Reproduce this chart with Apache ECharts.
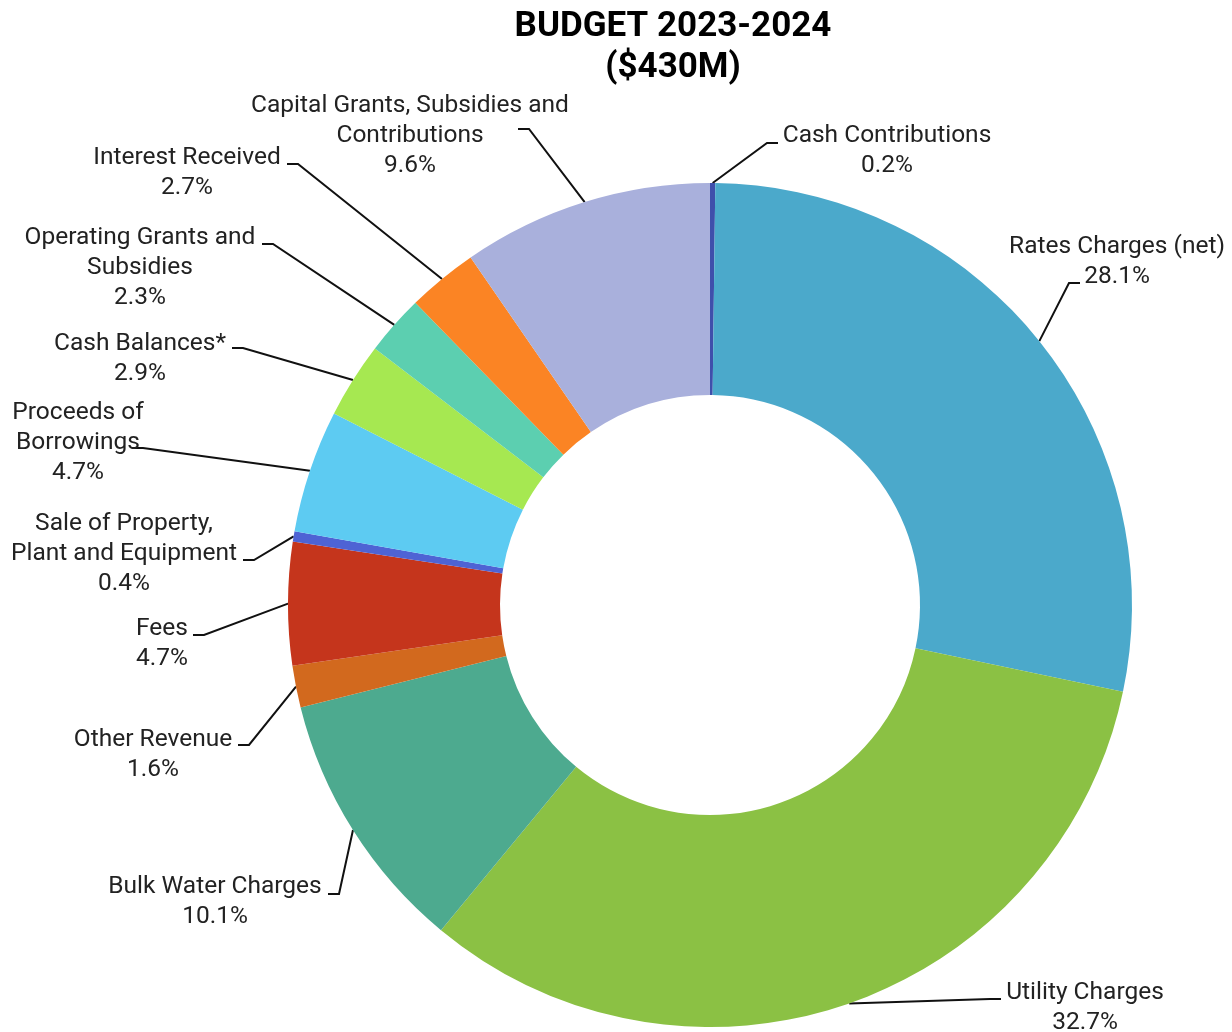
<!DOCTYPE html>
<html>
<head>
<meta charset="utf-8">
<script src="https://cdn.jsdelivr.net/npm/echarts@6/dist/echarts.min.js"></script>
<style>
html,body{margin:0;padding:0;background:#fff;}
#chart{width:1232px;height:1032px;}
</style>
</head>
<body>
<div id="chart"></div>
<script>
// ---- data ----
var categories = [
  'Cash Contributions',
  'Rates Charges (net)',
  'Utility Charges',
  'Bulk Water Charges',
  'Other Revenue',
  'Fees',
  'Sale of Property,\nPlant and Equipment',
  'Proceeds of\nBorrowings',
  'Cash Balances*',
  'Operating Grants and\nSubsidies',
  'Interest Received',
  'Capital Grants, Subsidies and\nContributions'
];
var shares = [0.2, 28.1, 32.7, 10.1, 1.6, 4.7, 0.4, 4.7, 2.9, 2.3, 2.7, 9.6];
var titleText = 'BUDGET 2023-2024\n($430M)';

// ---- styles / label placement (annotation layout, not data) ----
var sliceColors = ['#3F4FAB', '#4BA9CB', '#8BC144', '#4DAA8F', '#D2691E', '#C5351C',
                   '#4E63D4', '#5DCBF2', '#A6E851', '#5CCFB0', '#FB8424', '#A9B0DC'];
var labelCenter = [
  [887, 151], [1117, 262], [1085, 1008], [215, 902], [153, 755], [162, 644],
  [124, 554], [78, 443], [140, 359], [140, 268], [187, 173], [410, 136]
];
var labelAttach = [
  [778, 143], [1080, 283], [1001, 999], [328, 894], [238, 745], [193, 635],
  [243, 560], [132, 448], [232, 348], [262, 244], [287, 164], [518, 129]
];
var CX = 710, CY = 605, R0 = 210, R1 = 422;

var chart = echarts.init(document.getElementById('chart'), null, {renderer: 'canvas'});

var dataItems = categories.map(function (c, i) {
  return { name: c, value: shares[i], itemStyle: { color: sliceColors[i] } };
});

var total = shares.reduce(function (a, b) { return a + b; }, 0);
function sliceEdge(i) {
  var before = 0;
  for (var k = 0; k < i; k++) before += shares[k];
  var mid = (before + shares[i] / 2) / total * Math.PI * 2;
  return [CX + R1 * Math.sin(mid), CY - R1 * Math.cos(mid)];
}

chart.setOption({
  backgroundColor: '#ffffff',
  animation: false,
  title: {
    text: titleText,
    left: 668,
    top: 2,
    textAlign: 'center',
    textStyle: {
      fontFamily: 'Roboto',
      fontSize: 35,
      fontWeight: 'bold',
      lineHeight: 41,
      color: '#000000'
    }
  },
  series: [{
    type: 'pie',
    center: [CX, CY],
    radius: [R0, R1],
    startAngle: 90,
    clockwise: true,
    avoidLabelOverlap: false,
    itemStyle: { borderWidth: 0 },
    label: {
      show: true,
      position: 'outside',
      fontFamily: 'Roboto',
      fontSize: 24.5,
      lineHeight: 30,
      color: '#222222',
      align: 'center',
      formatter: function (p) { return p.name + '\n' + p.value.toFixed(1) + '%'; }
    },
    labelLine: {
      show: true,
      length: 10,
      length2: 10,
      lineStyle: { color: '#111111', width: 2 }
    },
    labelLayout: function (p) {
      var i = p.dataIndex;
      var L = labelCenter[i], A = labelAttach[i];
      var start = (p.labelLinePoints && p.labelLinePoints[0]) ? p.labelLinePoints[0] : sliceEdge(i);
      var dir = start[0] > A[0] ? 1 : -1;
      return {
        x: L[0],
        y: L[1],
        align: 'center',
        verticalAlign: 'middle',
        labelLinePoints: [start, [A[0] + dir * 11, A[1]], A]
      };
    },
    emphasis: { disabled: true },
    data: dataItems
  }]
});
</script>
</body>
</html>
